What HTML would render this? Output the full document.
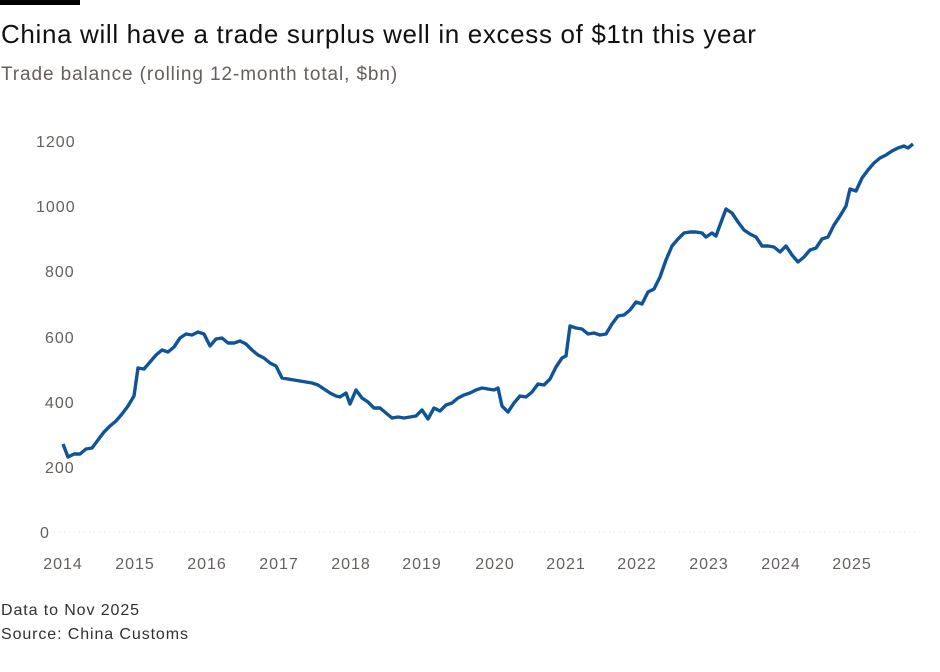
<!DOCTYPE html>
<html><head><meta charset="utf-8"><style>
body{margin:0;width:940px;height:672px;background:#fff;font-family:"Liberation Sans",sans-serif;position:relative;overflow:hidden}
.t{position:absolute;white-space:nowrap}
</style></head><body>
<div style="position:absolute;left:0;top:0;width:80px;height:5px;background:#000"></div>
<div class="t" style="left:1px;top:19px;font-size:26px;letter-spacing:0.65px;color:#111">China will have a trade surplus well in excess of $1tn this year</div>
<div class="t" style="left:1px;top:64px;font-size:19px;letter-spacing:0.9px;color:#66605c">Trade balance (rolling 12-month total, $bn)</div>
<svg width="940" height="672" style="position:absolute;left:0;top:0">
<g font-family="Liberation Sans, sans-serif" font-size="16" letter-spacing="1" fill="#66605c">
<text x="36" y="147">1200</text><text x="36" y="212">1000</text><text x="45" y="277">800</text><text x="45" y="343">600</text><text x="45" y="408">400</text><text x="45" y="473">200</text><text x="40" y="538">0</text>
<g text-anchor="middle">
<text x="63" y="569">2014</text><text x="135" y="569">2015</text><text x="207" y="569">2016</text><text x="279" y="569">2017</text><text x="351" y="569">2018</text><text x="422" y="569">2019</text><text x="495" y="569">2020</text><text x="566" y="569">2021</text><text x="637" y="569">2022</text><text x="709" y="569">2023</text><text x="781" y="569">2024</text><text x="852" y="569">2025</text>
</g></g>
<line x1="54" y1="532" x2="915" y2="532" stroke="#ddd" stroke-dasharray="1,4"/>
<polyline fill="none" stroke="#0f5499" stroke-width="3.4" stroke-linejoin="round" points="63,444 68,457 74,454 80,454 86,449 92,448 98,440 104,432 110,426 116,421 122,414 128,406 134,396 138,368 144,369 150,362 156,355 162,350 168,352 174,347 180,338 186,334 192,335 198,332 204,334 210,346 216,339 222,338 228,343 234,343 240,341 246,344 252,350 258,355 264,358 270,363 276,366 282,378 288,379 294,380 300,381 306,382 312,383 318,385 324,389 330,393 336,396 340,397 346,393 350,404 356,390 362,398 368,402 374,408 380,408 386,413 392,418 398,417 404,418 410,417 416,416 422,410 428,419 434,408 440,411 446,405 452,403 458,398 464,395 470,393 476,390 482,388 488,389 494,390 498,388 502,406 508,412 514,403 520,396 526,397 532,392 538,384 544,385 550,379 556,367 562,358 566,356 570,326 576,328 582,329 588,334 594,333 600,335 606,334 612,324 618,316 624,315 630,310 636,302 642,304 648,292 654,289 660,277 666,260 672,246 678,239 684,233 690,232 696,232 702,233 706,237 712,233 716,236 720,225 726,209 732,213 738,222 744,230 750,234 756,237 762,246 768,246 774,247 780,252 786,246 792,255 798,262 804,257 810,250 816,248 822,239 828,237 834,225 840,216 846,206 850,189 856,191 862,178 868,170 874,163 880,158 886,155 892,151 898,148 904,146 908,148 913,144"/>
</svg>
<div class="t" style="left:1px;top:602px;font-size:16px;letter-spacing:0.9px;color:#33302e">Data to Nov 2025</div>
<div class="t" style="left:1px;top:626px;font-size:16px;letter-spacing:0.9px;color:#33302e">Source: China Customs</div>
</body></html>
